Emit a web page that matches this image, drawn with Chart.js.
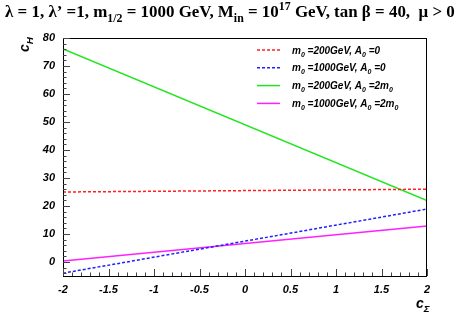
<!DOCTYPE html>
<html>
<head>
<meta charset="utf-8">
<script src="https://cdn.jsdelivr.net/npm/chart.js@4.4.1/dist/chart.umd.min.js"></script>
<style>
  html, body { margin: 0; padding: 0; background: #fff; }
  canvas { display: block; }
</style>
</head>
<body>
<canvas id="graphique" width="459" height="316"></canvas>
<script>
// valeurs
const cSigma = [-2, 2];
const red200 = [25.0, 26.0];
const blue1000 = [-4.0, 18.9];
const green200 = [76.1, 21.9];
const magenta1000 = [0.4, 12.9];

const xTicks = [-2, -1.5, -1, -0.5, 0, 0.5, 1, 1.5, 2];
const yTicks = [0, 10, 20, 30, 40, 50, 60, 70, 80];

const legendLabels = [
    [["m", "n"], ["0", "sub"], [" =200GeV, A", "n"], ["0", "sub"], [" =0", "n"]],
    [["m", "n"], ["0", "sub"], [" =1000GeV, A", "n"], ["0", "sub"], [" =0", "n"]],
    [["m", "n"], ["0", "sub"], [" =200GeV, A", "n"], ["0", "sub"], [" =2m", "n"], ["0", "sub"]],
    [["m", "n"], ["0", "sub"], [" =1000GeV, A", "n"], ["0", "sub"], [" =2m", "n"], ["0", "sub"]]
];

const titre = [
    ["λ = 1, λ’ =1, m", "n"], ["1/2", "sub"], [" = 1000 GeV, M", "n"], ["in", "sub"],
    [" = 10", "n"], ["17", "sup"], [" GeV, tan β = 40,  μ > 0", "n"]
];

const pts = ys => cSigma.map((x, i) => ({ x: x, y: ys[i] }));

const SANS = "'Liberation Sans', Arial, sans-serif";

// texte avec indices / exposants
function richText(ctx, segs, x, y, size, family, weight, measureOnly) {
    let cx = x;
    segs.forEach(([t, kind]) => {
        const s = kind === "n" ? size : size * 0.7;
        ctx.font = weight + " " + s + "px " + family;
        let dy = 0;
        if (kind === "sub") dy = size * 0.3;
        if (kind === "sup") dy = -size * 0.4;
        if (!measureOnly) ctx.fillText(t, cx, y + dy);
        cx += ctx.measureText(t).width;
    });
    return cx - x;
}

const decorPlugin = {
    id: "decor",
    afterDraw(chart) {
        const ctx = chart.ctx;
        const a = chart.chartArea;
        const xs = chart.scales.x, ys = chart.scales.y;
        ctx.save();

        // cadre
        ctx.strokeStyle = "#000";
        ctx.lineWidth = 1;
        ctx.strokeRect(a.left + 0.5, a.top + 0.5, a.right - a.left - 1, a.bottom - a.top);

        // graduations
        ctx.strokeStyle = "#444";
        ctx.beginPath();
        for (let i = 0; i <= 40; i++) {
            const v = -2 + i * 0.1;
            const px = Math.round(xs.getPixelForValue(v)) + 0.5;
            const len = i % 5 === 0 ? 7 : 3.5;
            ctx.moveTo(px, a.bottom);
            ctx.lineTo(px, a.bottom - len);
        }
        for (let v = -4; v <= 80; v += 2) {
            const py = Math.round(ys.getPixelForValue(v)) + 0.5;
            const len = v % 10 === 0 ? 7 : 3.5;
            ctx.moveTo(a.left, py);
            ctx.lineTo(a.left + len, py);
        }
        ctx.stroke();

        // titre
        ctx.fillStyle = "#000";
        ctx.textBaseline = "alphabetic";
        ctx.textAlign = "left";
        const serif = "'Liberation Serif', 'Times New Roman', serif";
        let size = 15.5;
        let w = richText(ctx, titre, 0, 0, size, serif, "bold", true);
        size = size * 450 / w;
        richText(ctx, titre, 5, 17, size, serif, "bold", false);

        // légende
        chart.data.datasets.forEach((ds, i) => {
            const y = 50 + i * 17.8;
            ctx.strokeStyle = ds.borderColor;
            ctx.lineWidth = 1.5;
            ctx.setLineDash(ds.borderDash || []);
            ctx.beginPath();
            ctx.moveTo(257, y);
            ctx.lineTo(280, y);
            ctx.stroke();
            ctx.setLineDash([]);
            ctx.fillStyle = "#000";
            richText(ctx, legendLabels[i], 292, y + 3.5, 10, SANS, "italic bold", false);
        });

        // titres des axes
        ctx.fillStyle = "#000";
        richText(ctx, [["c", "n"], ["Σ", "sub"]], 416, 308, 14, SANS, "italic bold", false);
        ctx.translate(29, 52);
        ctx.rotate(-Math.PI / 2);
        richText(ctx, [["c", "n"], ["H", "sub"]], 0, 0, 14, SANS, "italic bold", false);
        ctx.restore();
    }
};

const tickFont = { family: SANS, size: 11, style: "italic", weight: "bold" };

new Chart(document.getElementById("graphique"), {
    type: "scatter",
    data: {
        datasets: [
            { data: pts(red200), borderColor: "#ff2020", borderDash: [3, 2] },
            { data: pts(blue1000), borderColor: "#2020ff", borderDash: [3, 2] },
            { data: pts(green200), borderColor: "#20e620" },
            { data: pts(magenta1000), borderColor: "#ff20ff" }
        ].map(d => Object.assign(d, { showLine: true, pointRadius: 0, borderWidth: 1.5, fill: false }))
    },
    options: {
        responsive: false,
        animation: false,
        devicePixelRatio: 1,
        layout: { padding: { left: 0, top: 38, right: 32, bottom: 0 } },
        plugins: { legend: { display: false }, tooltip: { enabled: false } },
        scales: {
            x: {
                type: "linear",
                min: -2,
                max: 2,
                afterBuildTicks: s => { s.ticks = xTicks.map(v => ({ value: v })); },
                afterFit: s => { s.height = 40; },
                grid: { display: false, drawTicks: false },
                border: { display: false },
                ticks: { font: tickFont, color: "#000", padding: 7, maxRotation: 0, callback: v => String(v) }
            },
            y: {
                type: "linear",
                min: -5,
                max: 80,
                afterBuildTicks: s => { s.ticks = yTicks.map(v => ({ value: v })); },
                afterFit: s => { s.width = 63; },
                grid: { display: false, drawTicks: false },
                border: { display: false },
                ticks: { font: tickFont, color: "#000", padding: 8, callback: v => String(v) }
            }
        }
    },
    plugins: [decorPlugin]
});
</script>
</body>
</html>
